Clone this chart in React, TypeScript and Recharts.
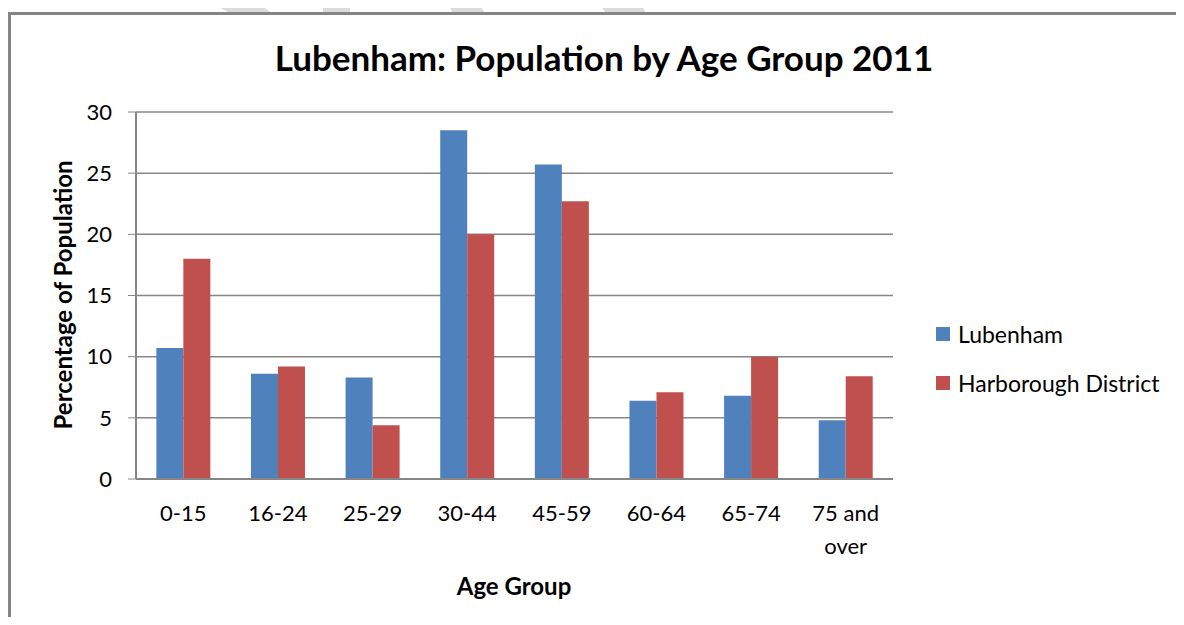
import React from 'react';
import { BarChart, Bar, CartesianGrid, XAxis, YAxis } from 'recharts';

const ageGroups = ['0-15', '16-24', '25-29', '30-44', '45-59', '60-64', '65-74', '75 and over'];
const lubenham = [10.7, 8.6, 8.3, 28.5, 25.7, 6.4, 6.8, 4.8];
const harborough = [18.0, 9.2, 4.4, 20.0, 22.7, 7.1, 10.0, 8.4];
const yTicks = [0, 5, 10, 15, 20, 25, 30];

const BLUE = '#4F81BD';
const RED = '#C0504D';
const FONT = 'Lato, "Open Sans", sans-serif';

const data = ageGroups.map((g, i) => ({ group: g, lubenham: lubenham[i], harborough: harborough[i] }));

const legendItems = [
  { name: 'Lubenham', color: BLUE },
  { name: 'Harborough District', color: RED },
];

function AgeTick(props: any) {
  const { x, y, payload } = props;
  const words: string[] = String(payload.value).split(' ');
  // Excel wraps the long label onto two lines
  const lines = words.length > 2 ? [words.slice(0, 2).join('  '), words.slice(2).join(' ')] : [payload.value];
  return (
    <g transform={`translate(${x},${y})`}>
      {lines.map((l, i) => (
        <text key={i} x={0} y={i * 33} dy={34} textAnchor="middle" fill="#000" fontSize={22} fontFamily={FONT}>
          {l}
        </text>
      ))}
    </g>
  );
}

export default function App() {
  return (
    <div style={{ position: 'relative', width: 1184, height: 625, margin: -8, background: '#fff', overflow: 'hidden' }}>
      <svg width={1184} height={625} style={{ position: 'absolute', left: 0, top: 0 }}>
        <polygon points="206,0 256,0 270,12 228,12" fill="#dcdcdc" />
        <polygon points="323,0 350,0 350,12 323,12" fill="#dcdcdc" />
        <polygon points="447,0 478,0 484,12 452,12" fill="#dcdcdc" />
        <polygon points="597,0 640,0 645,12 605,12" fill="#dcdcdc" />
        <path d="M9.5,625 L9.5,13.5 L1177.5,13.5 L1177.5,625" fill="none" stroke="#858585" strokeWidth={3} />
      </svg>
      <div
        style={{
          position: 'absolute', left: 0, width: 1208, top: 35, textAlign: 'center',
          fontFamily: FONT, fontWeight: 700, fontSize: 35, lineHeight: '44px', color: '#000',
        }}
      >
        Lubenham: Population by Age Group 2011
      </div>
      <div
        style={{
          position: 'absolute', left: 62, top: 295, transform: 'translate(-50%, -50%) rotate(-90deg)',
          whiteSpace: 'nowrap', fontFamily: FONT, fontWeight: 700, fontSize: 24, color: '#000',
        }}
      >
        Percentage of Population
      </div>
      <div
        style={{
          position: 'absolute', left: 514, top: 585, transform: 'translate(-50%, -50%)',
          whiteSpace: 'nowrap', fontFamily: FONT, fontWeight: 700, fontSize: 24, color: '#000',
        }}
      >
        Age Group
      </div>
      <div style={{ position: 'absolute', left: 936, top: 309, fontFamily: FONT, fontSize: 23, color: '#000' }}>
        {legendItems.map((it) => (
          <div key={it.name} style={{ display: 'flex', alignItems: 'center', height: 49 }}>
            <span style={{ width: 14, height: 14, background: it.color, marginRight: 8, display: 'inline-block' }} />
            <span>{it.name}</span>
          </div>
        ))}
      </div>
      <BarChart
        width={1184}
        height={625}
        data={data}
        margin={{ top: 112, right: 291, left: 76, bottom: 116 }}
        barCategoryGap="21.5%"
        barGap={0}
        style={{ position: 'absolute', left: 0, top: 0 }}
      >
        <CartesianGrid vertical={false} stroke="#868686" strokeWidth={1.5} />
        <XAxis
          dataKey="group"
          height={30}
          tickLine={false}
          axisLine={{ stroke: '#868686', strokeWidth: 2 }}
          tick={<AgeTick />}
          interval={0}
        />
        <YAxis
          width={60}
          domain={[0, 30]}
          ticks={yTicks}
          tickSize={8}
          tickLine={{ stroke: '#868686' }}
          axisLine={{ stroke: '#868686', strokeWidth: 2 }}
          tick={{ fill: '#000', fontSize: 22, fontFamily: FONT }}
          tickMargin={16}
        />
        <Bar dataKey="lubenham" name="Lubenham" fill={BLUE} isAnimationActive={false} />
        <Bar dataKey="harborough" name="Harborough District" fill={RED} isAnimationActive={false} />
      </BarChart>
    </div>
  );
}
